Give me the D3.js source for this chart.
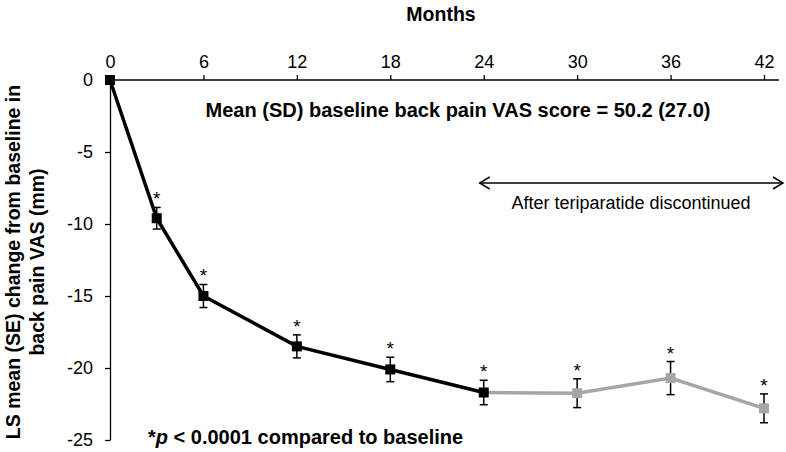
<!DOCTYPE html>
<html><head><meta charset="utf-8">
<script src="https://cdn.jsdelivr.net/npm/d3@7"></script>
<style>body{margin:0;background:#fff}svg{font-family:"Liberation Sans",Arial,sans-serif}</style>
</head><body>
<svg id="c" width="786" height="452"></svg>
<script>
const months = [0, 3, 6, 12, 18, 24, 30, 36, 42];
const means  = [0, -9.6, -15.0, -18.5, -20.1, -21.7, -21.75, -20.7, -22.8];
const ses    = [0, 0.75, 0.8, 0.8, 0.85, 0.85, 1.0, 1.15, 1.0];
const signif = [false, true, true, true, true, true, true, true, true];
const onTreatment = [true, true, true, true, true, true, false, false, false];
const xTicks = [0, 6, 12, 18, 24, 30, 36, 42];
const yTicks = [0, -5, -10, -15, -20, -25];

const svg = d3.select("#c");
const x = d3.scaleLinear().domain([0, 42]).range([110, 764]);
const y = d3.scaleLinear().domain([0, -25]).range([80, 440]);

// axes
const xAxis = svg.append("g").attr("transform", "translate(0,80)")
  .call(d3.axisTop(x).tickValues(xTicks).tickFormat(d => String(d)).tickSize(5).tickPadding(7).tickSizeOuter(0));
xAxis.select(".domain").attr("d", `M${x(0)},0H779`);
const yAxis = svg.append("g").attr("transform", "translate(110,0)")
  .call(d3.axisLeft(y).tickValues(yTicks).tickFormat(d => String(d)).tickSize(5).tickPadding(12).tickSizeOuter(0));
svg.selectAll(".domain, .tick line").attr("stroke", "#000").attr("stroke-width", 1.3);
svg.selectAll(".tick text").attr("font-size", 18).attr("fill", "#000")
   .attr("font-family", "Liberation Sans, Arial, sans-serif");

// titles
svg.append("text").attr("x", 441).attr("y", 21).attr("text-anchor", "middle")
  .attr("font-size", 19.5).attr("font-weight", "bold").text("Months");
const yl = svg.append("text").attr("transform", "translate(0,262) rotate(-90)")
  .attr("text-anchor", "middle").attr("font-size", 19.5).attr("font-weight", "bold");
yl.append("tspan").attr("x", 0).attr("y", 20).text("LS mean (SE) change from baseline in");
yl.append("tspan").attr("x", 0).attr("y", 44).text("back pain VAS (mm)");

svg.append("text").attr("x", 458).attr("y", 117).attr("text-anchor", "middle")
  .attr("font-size", 20).attr("font-weight", "bold")
  .text("Mean (SD) baseline back pain VAS score = 50.2 (27.0)");

// arrow
const ax1 = x(24) - 4, ax2 = 783, ay = 183;
svg.append("line").attr("x1", ax1).attr("x2", ax2).attr("y1", ay).attr("y2", ay)
  .attr("stroke", "#000").attr("stroke-width", 1.5);
svg.append("path").attr("d", `M${ax1+10},${ay-6}L${ax1},${ay}L${ax1+10},${ay+6}M${ax2-10},${ay-6}L${ax2},${ay}L${ax2-10},${ay+6}`)
  .attr("fill", "none").attr("stroke", "#000").attr("stroke-width", 1.5);
svg.append("text").attr("x", 631).attr("y", 209).attr("text-anchor", "middle")
  .attr("font-size", 18).text("After teriparatide discontinued");

// data
const data = months.map((m, i) => ({m, v: means[i], se: ses[i], s: signif[i], on: onTreatment[i]}));
const line = d3.line().x(d => x(d.m)).y(d => y(d.v));
svg.append("path").datum(data.filter(d => !d.on || d.m === 24)).attr("d", line)
  .attr("fill", "none").attr("stroke", "#a6a6a6").attr("stroke-width", 3.5);
svg.append("path").datum(data.filter(d => d.on)).attr("d", line)
  .attr("fill", "none").attr("stroke", "#000").attr("stroke-width", 3.5);

const eb = svg.append("g").attr("stroke", "#000").attr("stroke-width", 1.5);
data.filter(d => d.se > 0).forEach(d => {
  const cx = x(d.m), t = y(d.v + d.se), b = y(d.v - d.se);
  eb.append("line").attr("x1", cx).attr("x2", cx).attr("y1", t).attr("y2", b);
  eb.append("line").attr("x1", cx-4).attr("x2", cx+4).attr("y1", t).attr("y2", t);
  eb.append("line").attr("x1", cx-4).attr("x2", cx+4).attr("y1", b).attr("y2", b);
});

svg.append("g").selectAll("rect").data(data).join("rect")
  .attr("x", d => x(d.m) - 5).attr("y", d => y(d.v) - 5).attr("width", 10).attr("height", 10)
  .attr("fill", d => d.on ? "#000" : "#a6a6a6");

svg.append("g").selectAll("text").data(data.filter(d => d.s)).join("text")
  .attr("x", d => x(d.m)).attr("y", d => y(d.v + d.se) - 2).attr("text-anchor", "middle")
  .attr("font-size", 19).text("*");

// footnote
const fn = svg.append("text").attr("x", 148).attr("y", 444).attr("font-size", 20).attr("font-weight", "bold");
fn.append("tspan").text("*");
fn.append("tspan").attr("font-style", "italic").text("p");
fn.append("tspan").text(" < 0.0001 compared to baseline");
</script>
</body></html>
